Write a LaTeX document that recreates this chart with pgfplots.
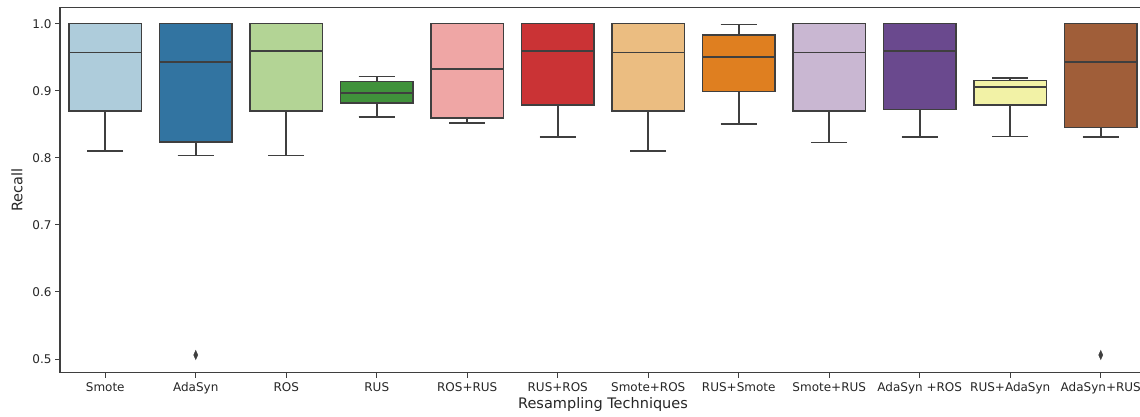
\documentclass[border=0pt]{standalone}
\usepackage{pgfplots}
\pgfplotsset{compat=1.18}
\usepgfplotslibrary{statistics}
\usepackage{fontspec}
\setmainfont{DejaVu Sans}
\definecolor{edge}{RGB}{63,63,63}
\definecolor{c1}{RGB}{174,204,219}
\definecolor{c2}{RGB}{50,116,161}
\definecolor{c3}{RGB}{179,212,149}
\definecolor{c4}{RGB}{64,146,59}
\definecolor{c5}{RGB}{239,166,165}
\definecolor{c6}{RGB}{202,51,53}
\definecolor{c7}{RGB}{235,189,129}
\definecolor{c8}{RGB}{223,127,32}
\definecolor{c9}{RGB}{201,183,210}
\definecolor{c10}{RGB}{106,73,142}
\definecolor{c11}{RGB}{242,242,166}
\definecolor{c12}{RGB}{160,94,57}
\pgfplotsset{
  boxplot/draw direction=y,
  bx/.style={draw=edge, line width=1.6bp, solid,
    boxplot/draw direction=y,
    boxplot/box extend=0.8, boxplot/whisker extend=0.4,
    boxplot/every box/.style={draw=edge, line width=1.6bp},
    boxplot/every whisker/.style={draw=edge, line width=1.6bp},
    boxplot/every median/.style={draw=edge, line width=1.6bp},
    mark=diamond*, mark size=4.5bp, mark options={fill=edge, draw=edge, line width=0.5bp, xscale=0.6}},
}
\begin{document}
\begin{tikzpicture}
\useasboundingbox (0bp,0bp) rectangle (1140bp,417bp);
\begin{axis}[
  at={(60bp,44.3bp)}, anchor=south west,
  scale only axis, width=1086bp, height=365bp,
  xmin=-0.5, xmax=11.5, ymin=0.4796, ymax=1.0238,
  xtick={0,...,11},
  xticklabels={Smote,AdaSyn,ROS,RUS,ROS+RUS,RUS+ROS,Smote+ROS,RUS+Smote,Smote+RUS,AdaSyn +ROS,RUS+AdaSyn,AdaSyn+RUS},
  ytick={0.5,0.6,0.7,0.8,0.9,1.0},
  yticklabel style={/pgf/number format/fixed, /pgf/number format/fixed zerofill, /pgf/number format/precision=1},
  /pgf/number format/assume math mode=true,
  tick align=outside, xtick pos=left, ytick pos=left,
  major tick length=5bp,
  tick style={draw=edge, line width=1bp},
  axis line style={draw=edge, line width=1.2bp},
  ticklabel style={font=\fontsize{12bp}{14bp}\selectfont, text=black!85},
  xticklabel style={yshift=-1bp},
  xlabel={Resampling Techniques}, ylabel={Recall},
  label style={font=\fontsize{14.5bp}{17bp}\selectfont, text=black!85},
  xlabel style={yshift=3bp},
  ylabel style={yshift=3bp},
  clip=false,
]
\addplot[bx, fill=c1, boxplot prepared={lower whisker=0.810, lower quartile=0.870, median=0.957, upper quartile=1.0, upper whisker=1.0, draw position=0}] coordinates {};
\addplot[bx, fill=c2, boxplot prepared={lower whisker=0.8036, lower quartile=0.824, median=0.9425, upper quartile=1.0, upper whisker=1.0, draw position=1}] table[row sep=\\, y index=0] {0.506\\};
\addplot[bx, fill=c3, boxplot prepared={lower whisker=0.8036, lower quartile=0.870, median=0.959, upper quartile=1.0, upper whisker=1.0, draw position=2}] coordinates {};
\addplot[bx, fill=c4, boxplot prepared={lower whisker=0.861, lower quartile=0.882, median=0.897, upper quartile=0.914, upper whisker=0.921, draw position=3}] coordinates {};
\addplot[bx, fill=c5, boxplot prepared={lower whisker=0.852, lower quartile=0.859, median=0.932, upper quartile=1.0, upper whisker=1.0, draw position=4}] coordinates {};
\addplot[bx, fill=c6, boxplot prepared={lower whisker=0.831, lower quartile=0.879, median=0.959, upper quartile=1.0, upper whisker=1.0, draw position=5}] coordinates {};
\addplot[bx, fill=c7, boxplot prepared={lower whisker=0.810, lower quartile=0.870, median=0.957, upper quartile=1.0, upper whisker=1.0, draw position=6}] coordinates {};
\addplot[bx, fill=c8, boxplot prepared={lower whisker=0.850, lower quartile=0.899, median=0.950, upper quartile=0.983, upper whisker=0.999, draw position=7}] coordinates {};
\addplot[bx, fill=c9, boxplot prepared={lower whisker=0.823, lower quartile=0.870, median=0.957, upper quartile=1.0, upper whisker=1.0, draw position=8}] coordinates {};
\addplot[bx, fill=c10, boxplot prepared={lower whisker=0.831, lower quartile=0.872, median=0.959, upper quartile=1.0, upper whisker=1.0, draw position=9}] coordinates {};
\addplot[bx, fill=c11, boxplot prepared={lower whisker=0.832, lower quartile=0.879, median=0.906, upper quartile=0.915, upper whisker=0.919, draw position=10}] coordinates {};
\addplot[bx, fill=c12, boxplot prepared={lower whisker=0.831, lower quartile=0.845, median=0.9425, upper quartile=1.0, upper whisker=1.0, draw position=11}] table[row sep=\\, y index=0] {0.506\\};
\end{axis}
\end{tikzpicture}
\end{document}
